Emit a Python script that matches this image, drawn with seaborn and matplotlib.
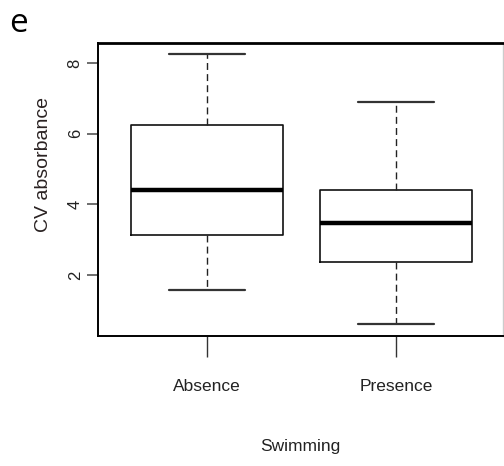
import matplotlib
matplotlib.use("Agg")
import matplotlib.pyplot as plt
import seaborn as sns
import pandas as pd

# Five-number summaries (min, Q1, median, Q3, max) of CV absorbance per group
groups = ["Absence", "Presence"]
absence_summary = [1.57, 3.13, 4.40, 6.24, 8.25]
presence_summary = [0.61, 2.37, 3.47, 4.40, 6.90]
yticks = [2, 4, 6, 8]

df = pd.DataFrame({
    "Swimming": [groups[0]] * len(absence_summary) + [groups[1]] * len(presence_summary),
    "CV absorbance": absence_summary + presence_summary,
})

sns.set_style("white")
plt.rcParams["font.family"] = ["Liberation Sans", "DejaVu Sans"]

fig = plt.figure(figsize=(5.04, 4.66), dpi=100)
ax = fig.add_axes([98 / 504, 1 - 336 / 466, (503 - 98) / 504, (336 - 43) / 466])

sns.boxplot(
    data=df, x="Swimming", y="CV absorbance", order=groups, ax=ax,
    whis=(0, 100), width=0.8, fill=False, linecolor="black",
    boxprops=dict(linewidth=1.2, color="#111111"),
    whiskerprops=dict(linewidth=1.0, color="#222222", linestyle=(0, (5, 3))),
    capprops=dict(linewidth=1.6, color="#333333"),
    medianprops=dict(linewidth=3.2, color="black", solid_capstyle="butt"),
    showfliers=False,
)

ax.set_xlim(-0.577, 1.566)
ax.set_ylim(0.27, 8.57)
ax.set_yticks(yticks)
ax.set_yticklabels([str(t) for t in yticks], rotation=90, va="center",
                   fontsize=12, color="#222222")
ax.tick_params(axis="y", direction="out", length=8, width=1.2, color="#555555",
               left=True, pad=3)
ax.tick_params(axis="x", direction="out", length=15, width=1.0, color="#333333",
               bottom=True, pad=16)
for lab in ax.get_xticklabels():
    lab.set_fontsize(12.5)
    lab.set_color("#222222")

ax.set_xlabel("Swimming", fontsize=12.5, color="#222222", va="center")
ax.xaxis.set_label_coords(0.5, (336 - 447) / 293)
ax.set_ylabel("CV absorbance", fontsize=14, color="#2a2222", va="center")
ax.yaxis.set_label_coords((43 - 98) / 405, (336 - 164) / 293)

for side in ["left", "bottom", "top"]:
    ax.spines[side].set_color("black")
    ax.spines[side].set_linewidth(1.4)
ax.spines["top"].set_linewidth(2.0)
ax.spines["right"].set_color("#cccccc")
ax.spines["right"].set_linewidth(1.0)

fig.text(9 / 504, 1 - 24 / 466, "e", fontsize=24, family="Open Sans",
         va="center", ha="left", color="black")

fig.savefig("out.png", dpi=100)
